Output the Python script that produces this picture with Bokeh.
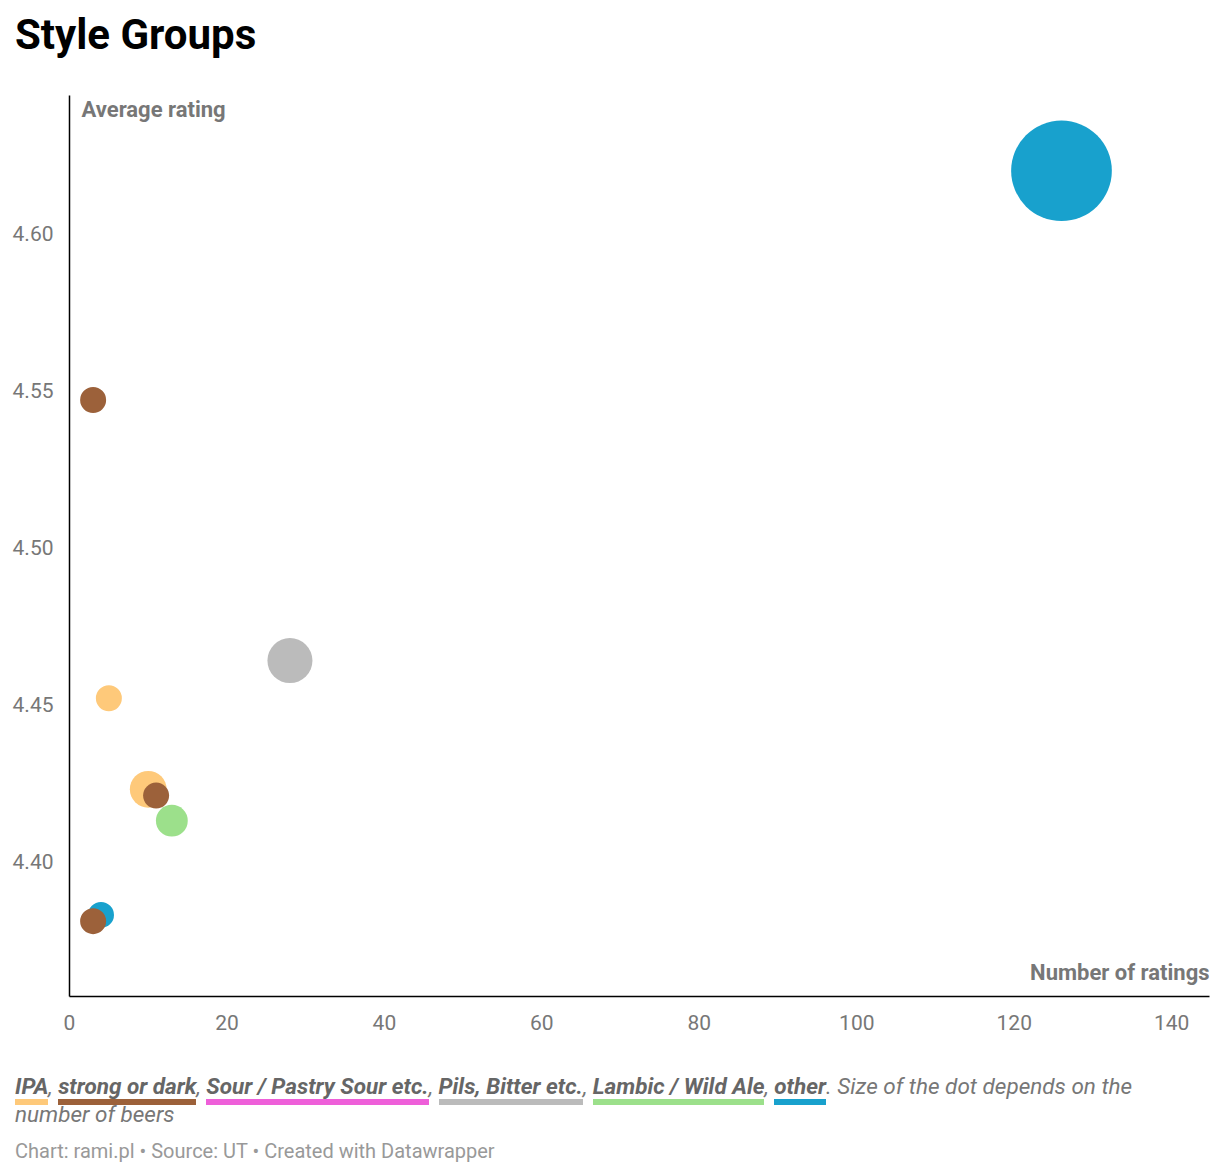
from bokeh.plotting import figure
from bokeh.models import ColumnDataSource, Div, Label, FixedTicker, NumeralTickFormatter
from bokeh.layouts import column
from bokeh.embed import file_html
from bokeh.resources import INLINE
import numpy as np

groups = ["IPA", "strong or dark", "Sour / Pastry Sour etc.", "Pils, Bitter etc.", "Lambic / Wild Ale", "other"]
group_colors = ["#fec97a", "#9c613a", "#ee5fd9", "#bbbbbb", "#9ce08b", "#18a1cd"]

pt_group = ["other", "Pils, Bitter etc.", "IPA", "IPA", "Lambic / Wild Ale", "strong or dark", "other", "strong or dark", "strong or dark"]
ratings_n = [126, 28, 5, 10, 13, 11, 4, 3, 3]
avg_rating = [4.620, 4.464, 4.452, 4.423, 4.413, 4.421, 4.383, 4.381, 4.547]
beers = [15, 3, 1, 2, 1.5, 1, 1, 1, 1]

cmap = dict(zip(groups, group_colors))
src = ColumnDataSource(dict(x=ratings_n, y=avg_rating,
                            s=[26 * np.sqrt(b) for b in beers],
                            c=[cmap[g] for g in pt_group]))

title = Div(text="<b>Style Groups</b>", width=1204, height=62,
            styles={"font-family": "Roboto", "font-size": "42px", "color": "#000", "line-height": "50px",
                    "margin-top": "10px", "padding-left": "10px"})

p = figure(width=1212, height=969, x_range=(0, 144.8), y_range=(4.357, 4.644),
           output_backend="svg", toolbar_location=None,
           min_border_left=69, min_border_right=3, min_border_top=18, min_border_bottom=50)
p.outline_line_color = None
p.grid.visible = False
p.scatter("x", "y", size="s", color="c", source=src, line_color=None)

p.xaxis.ticker = FixedTicker(ticks=[0, 20, 40, 60, 80, 100, 120, 140])
p.yaxis.ticker = FixedTicker(ticks=[4.40, 4.45, 4.50, 4.55, 4.60])
p.yaxis.formatter = NumeralTickFormatter(format="0.00")
for ax in (p.xaxis, p.yaxis):
    ax.major_tick_line_color = None
    ax.minor_tick_line_color = None
    ax.axis_line_color = "#000"
    ax.axis_line_width = 1.5
    ax.major_label_text_font = "Roboto"
    ax.major_label_text_font_size = "21px"
    ax.major_label_text_color = "#777"
p.xaxis.major_label_standoff = 12
p.yaxis.major_label_standoff = 10

p.add_layout(Label(x=12, y=887, x_units="screen", y_units="screen", text="Average rating",
                   text_font="Roboto", text_font_style="bold", text_font_size="22px", text_color="#777",
                   text_baseline="middle"))
p.add_layout(Label(x=1140, y=24, x_units="screen", y_units="screen", text="Number of ratings",
                   text_font="Roboto", text_font_style="bold", text_font_size="22px", text_color="#777",
                   text_align="right", text_baseline="middle"))

items = []
for g, c in zip(groups, group_colors):
    items.append(f'<b style="border-bottom:6px solid {c};color:#666">{g}</b>')
legend_html = ", ".join(items) + ". Size of the dot depends on the number of beers"
legend = Div(text=legend_html, width=1204, height=56,
             styles={"font-family": "Roboto", "font-style": "italic", "font-size": "22.5px", "color": "#777",
                     "line-height": "28px", "margin-top": "26px", "padding-left": "10px"})
footer = Div(text="Chart: rami.pl • Source: UT • Created with Datawrapper", width=1204, height=30,
             styles={"font-family": "Roboto", "font-size": "20px", "color": "#999", "margin-top": "4px",
                     "padding-left": "10px"})

layout = column(title, p, legend, footer, spacing=0)
open("out.html", "w").write(file_html(layout, INLINE))
